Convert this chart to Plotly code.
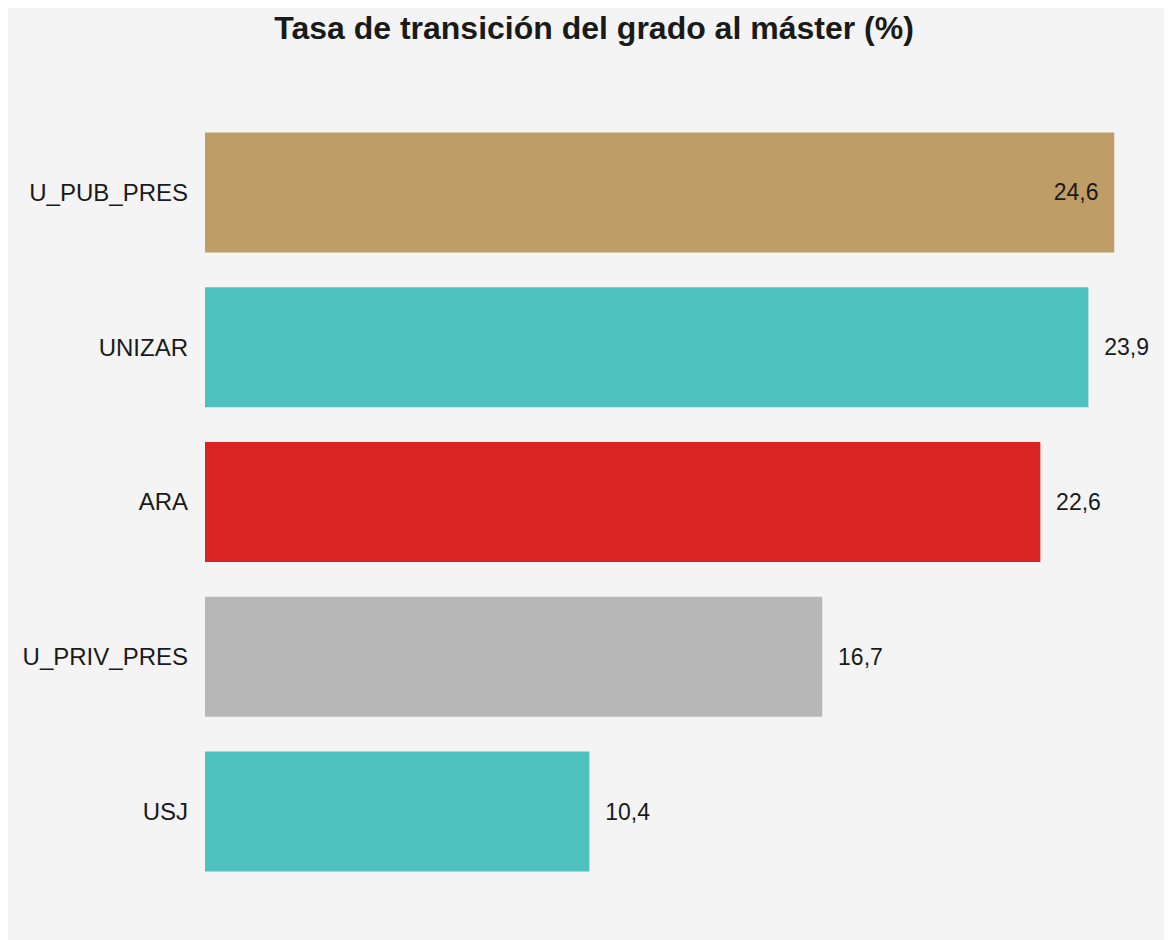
import plotly.graph_objects as go

# datos (de mayor a menor, orden de arriba a abajo)
universidades = ["U_PUB_PRES", "UNIZAR", "ARA", "U_PRIV_PRES", "USJ"]
tasa_transicion = [24.6, 23.9, 22.6, 16.7, 10.4]
colores = ["#BF9D66", "#4FC2BF", "#DA2323", "#B7B7B7", "#4FC2BF"]

FONT = "Arial, 'Liberation Sans', sans-serif"
TXT = "#1a1a1a"

# la barra más larga lleva la etiqueta dentro (no cabe fuera)
vmax = max(tasa_transicion)
posiciones = ["inside" if v == vmax else "outside" for v in tasa_transicion]

fig = go.Figure(
    go.Bar(
        x=tasa_transicion,
        y=universidades,
        orientation="h",
        marker=dict(color=colores, line=dict(width=0)),
        texttemplate="  %{x:.1f}  ",
        textposition=posiciones,
        insidetextanchor="end",
        textfont=dict(family=FONT, size=23, color=TXT),
        insidetextfont=dict(family=FONT, size=23, color=TXT),
        outsidetextfont=dict(family=FONT, size=23, color=TXT),
        cliponaxis=False,
        hoverinfo="x+y",
    )
)

fig.update_layout(
    width=1172,
    height=940,
    separators=",.",
    title=dict(
        text="<b>Tasa de transición del grado al máster (%)</b>",
        font=dict(family=FONT, size=32, color=TXT),
        x=0.5,
        xanchor="center",
        yref="container",
        y=1 - 20 / 940,
        yanchor="middle",
    ),
    paper_bgcolor="#F4F4F4",
    plot_bgcolor="#F4F4F4",
    bargap=0.225,
    showlegend=False,
    margin=dict(l=197, r=14, t=107, b=59),
    xaxis=dict(
        range=[0, 26],
        showgrid=False,
        zeroline=False,
        showticklabels=False,
        showline=False,
    ),
    yaxis=dict(
        autorange="reversed",
        showgrid=False,
        zeroline=False,
        showline=False,
        ticks="",
        ticklabelstandoff=16,
        tickfont=dict(family=FONT, size=24, color=TXT),
    ),
)

fig.write_html("out.html")
